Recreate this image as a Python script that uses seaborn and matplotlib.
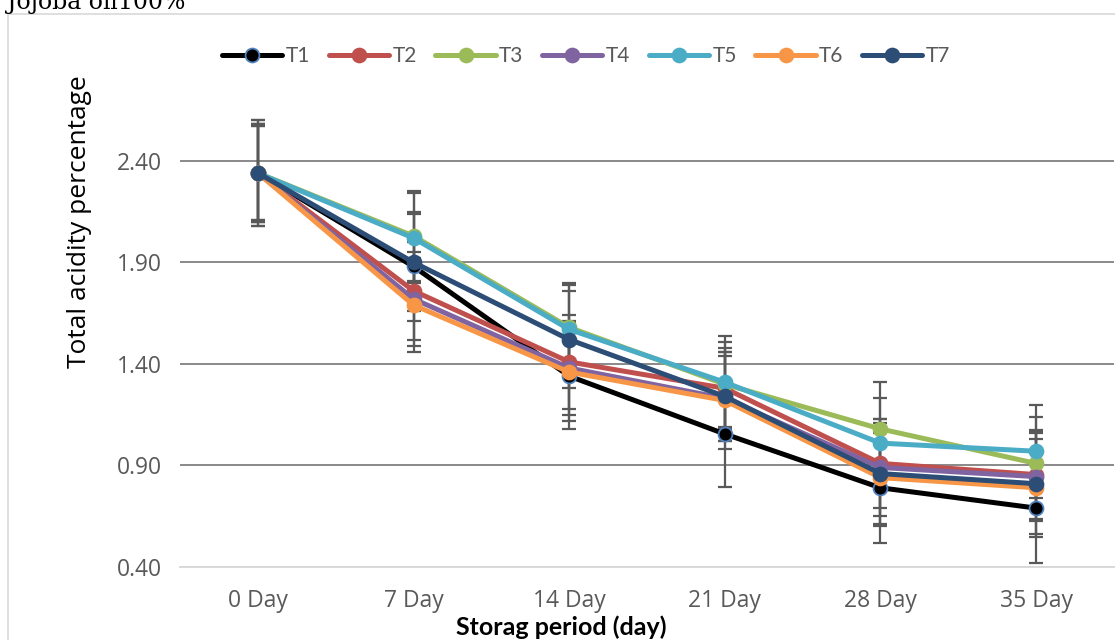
import pandas as pd
import seaborn as sns
import matplotlib
matplotlib.use('Agg')
import matplotlib.pyplot as plt
from matplotlib.patches import Rectangle

days = ["0 Day", "7 Day", "14 Day", "21 Day", "28 Day", "35 Day"]
treatments = ["T1", "T2", "T3", "T4", "T5", "T6", "T7"]

t1 = [2.34, 1.88, 1.34, 1.055, 0.79, 0.69]
t2 = [2.34, 1.76, 1.41, 1.28, 0.91, 0.855]
t3 = [2.34, 2.03, 1.58, 1.30, 1.08, 0.91]
t4 = [2.34, 1.72, 1.38, 1.23, 0.89, 0.845]
t5 = [2.34, 2.02, 1.57, 1.31, 1.01, 0.97]
t6 = [2.34, 1.69, 1.36, 1.22, 0.84, 0.79]
t7 = [2.34, 1.90, 1.52, 1.24, 0.86, 0.81]

e1 = [0.26, 0.27, 0.26, 0.26, 0.27, 0.27]
e2 = [0.24, 0.24, 0.23, 0.20, 0.22, 0.22]
e3 = [0.23, 0.22, 0.22, 0.21, 0.23, 0.23]
e4 = [0.24, 0.23, 0.23, 0.21, 0.24, 0.22]
e5 = [0.23, 0.22, 0.22, 0.23, 0.22, 0.23]
e6 = [0.26, 0.23, 0.24, 0.24, 0.24, 0.24]
e7 = [0.24, 0.24, 0.24, 0.22, 0.25, 0.25]

values = [t1, t2, t3, t4, t5, t6, t7]
errors = [e1, e2, e3, e4, e5, e6, e7]
colors = ["#000000", "#C0504D", "#9BBB59", "#8064A2", "#4BACC6", "#F79646", "#2C4D75"]

rows = []
for name, vals, errs in zip(treatments, values, errors):
    for d, v, e in zip(days, vals, errs):
        rows.append({"day": d, "treatment": name, "acidity": v, "err": e})
df = pd.DataFrame(rows)

sns.set_style("white")
plt.rcParams['font.family'] = ['Open Sans', 'DejaVu Sans']

fig = plt.figure(figsize=(11.15, 6.4), dpi=100)
fig.patches.append(Rectangle((8 / 1115, -0.05), 1.2, 1.05 - 14 / 640, transform=fig.transFigure,
                             fill=False, edgecolor="#d9d9d9", linewidth=1.2))
ax = fig.add_axes([0.1615, 0.1141, 0.8375, 0.7297])

for name, col in zip(treatments, colors):
    sub = df[df["treatment"] == name]
    ax.errorbar(sub["day"], sub["acidity"], yerr=sub["err"], fmt="none", ecolor="#595959",
                elinewidth=1.6, capsize=4.7, capthick=1.6, zorder=2)
    edge = "#4F81BD" if name == "T1" else col
    sns.lineplot(data=sub, x="day", y="acidity", ax=ax, color=col, linewidth=3.6, marker="o",
                 markersize=10, markeredgecolor=edge, markeredgewidth=1.3, label=name,
                 sort=False, zorder=3)

ax.set_xlim(-0.5, 5.5)
ax.set_ylim(0.40, 2.70)
ax.set_yticks([0.40, 0.90, 1.40, 1.90, 2.40])
ax.set_yticklabels([f"{v:.2f}" for v in [0.40, 0.90, 1.40, 1.90, 2.40]])
ax.yaxis.grid(True, color="#898989", linewidth=1.4)
ax.set_axisbelow(True)
for s in ["top", "right", "left"]:
    ax.spines[s].set_visible(False)
ax.spines["bottom"].set_color("#d9d9d9")
ax.spines["bottom"].set_linewidth(1.4)
ax.tick_params(axis="both", length=0, labelsize=16.5, labelcolor="#595959")
ax.tick_params(axis="y", pad=13)
ax.tick_params(axis="x", pad=16)
ax.set_xlabel("")
ax.set_ylabel("")

leg = ax.legend(loc="center", bbox_to_anchor=(586 / 1115, 1 - 56 / 640), bbox_transform=fig.transFigure,
                ncol=7, frameon=False, handlelength=2.9, handletextpad=0.15, columnspacing=0.9,
                prop={"family": "Lato", "size": 15})
for t in leg.get_texts():
    t.set_color("#595959")

fig.text(80 / 1115, 1 - 222 / 640, "Total acidity percentage", rotation=90, ha="center", va="center",
         fontsize=19, color="#000000")
fig.text(561 / 1115, 1 - 627 / 640, "Storag period (day)", ha="center", va="center",
         fontsize=18, fontweight="bold", family="Lato", color="#000000")
fig.text(0.006, 1 - 2 / 640, "Jojoba oil100%", ha="left", va="center", fontsize=17,
         family="DejaVu Serif", color="#000000")

fig.savefig("out.png", dpi=100)
